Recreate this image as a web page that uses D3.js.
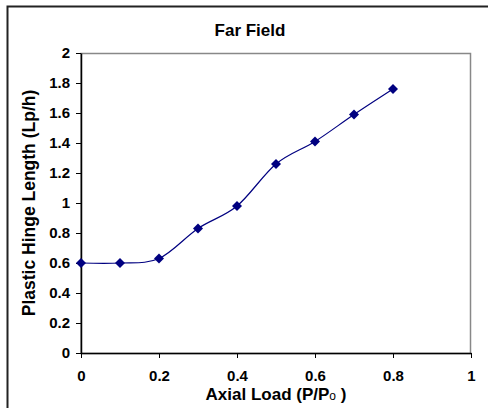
<!DOCTYPE html>
<html>
<head>
<meta charset="utf-8">
<script src="https://cdn.jsdelivr.net/npm/d3@7"></script>
<style>
  body { margin: 0; background: #fff; }
  svg { display: block; font-family: "Liberation Sans", Arial, sans-serif; font-weight: bold; }
</style>
</head>
<body>
<div id="chart"></div>
<script>
// data
const axialLoad = [0, 0.1, 0.2, 0.3, 0.4, 0.5, 0.6, 0.7, 0.8];
const hingeLength = [0.6, 0.6, 0.63, 0.83, 0.98, 1.26, 1.41, 1.59, 1.76];
const xTicks = [0, 0.2, 0.4, 0.6, 0.8, 1];
const yTicks = [0, 0.2, 0.4, 0.6, 0.8, 1, 1.2, 1.4, 1.6, 1.8, 2];

const width = 488, height = 408;
const margin = { top: 53, right: 17, bottom: 55, left: 81 };
const innerWidth = width - margin.left - margin.right;
const innerHeight = height - margin.top - margin.bottom;

const svg = d3.select("#chart").append("svg")
  .attr("width", width)
  .attr("height", height);

// outer chart border (only left and top show in the picture)
svg.append("path")
  .attr("d", `M7.5,${height} V6.5 H${width}`)
  .attr("fill", "none")
  .attr("stroke", "#222")
  .attr("stroke-width", 2);

const x = d3.scaleLinear().domain([0, 1]).range([0, innerWidth]);
const y = d3.scaleLinear().domain([0, 2]).range([innerHeight, 0]);

const g = svg.append("g")
  .attr("transform", `translate(${margin.left},${margin.top})`);

// plot area frame
g.append("rect")
  .attr("x", 0).attr("y", 0.5)
  .attr("width", innerWidth - 0.5).attr("height", innerHeight)
  .attr("fill", "none")
  .attr("stroke", "#888")
  .attr("stroke-width", 1.5);

// axes
const xAxis = g.append("g")
  .attr("transform", `translate(0,${innerHeight})`)
  .call(d3.axisBottom(x).tickValues(xTicks).tickSize(5).tickSizeOuter(0).tickPadding(12)
    .tickFormat(d3.format("")));
const yAxis = g.append("g")
  .call(d3.axisLeft(y).tickValues(yTicks).tickSize(5).tickSizeOuter(0).tickPadding(6)
    .tickFormat(d3.format("")));

[xAxis, yAxis].forEach(a => {
  a.attr("font-size", null).attr("font-family", null);
  a.select(".domain").attr("stroke", "#000").attr("stroke-width", 1.5);
  a.selectAll(".tick line").attr("stroke", "#000");
  a.selectAll(".tick text")
    .attr("fill", "#000")
    .style("font-size", "15px");
});

// smoothed line
const line = d3.line()
  .x((d, i) => x(axialLoad[i]))
  .y(d => y(d))
  .curve(d3.curveCatmullRom.alpha(0));

g.append("path")
  .datum(hingeLength)
  .attr("d", line)
  .attr("fill", "none")
  .attr("stroke", "#000080")
  .attr("stroke-width", 1.2);

// diamond markers
g.selectAll(".marker")
  .data(hingeLength)
  .enter().append("path")
  .attr("class", "marker")
  .attr("transform", (d, i) => `translate(${x(axialLoad[i])},${y(d)})`)
  .attr("d", "M0,-5 L5,0 L0,5 L-5,0 Z")
  .attr("fill", "#000080");

// titles
svg.append("text")
  .attr("x", 250).attr("y", 36)
  .attr("text-anchor", "middle")
  .style("font-size", "17px")
  .text("Far Field");

const xTitle = svg.append("text")
  .attr("x", margin.left + innerWidth / 2).attr("y", 400)
  .attr("text-anchor", "middle")
  .style("font-size", "17px");
xTitle.append("tspan").text("Axial Load (P/P");
xTitle.append("tspan").style("font-size", "12px").style("font-weight", "normal").text("o");
xTitle.append("tspan").text(" )");

svg.append("text")
  .attr("transform", `translate(35,${margin.top + innerHeight / 2}) rotate(-90)`)
  .attr("text-anchor", "middle")
  .style("font-size", "17.5px")
  .text("Plastic Hinge Length (Lp/h)");
</script>
</body>
</html>
